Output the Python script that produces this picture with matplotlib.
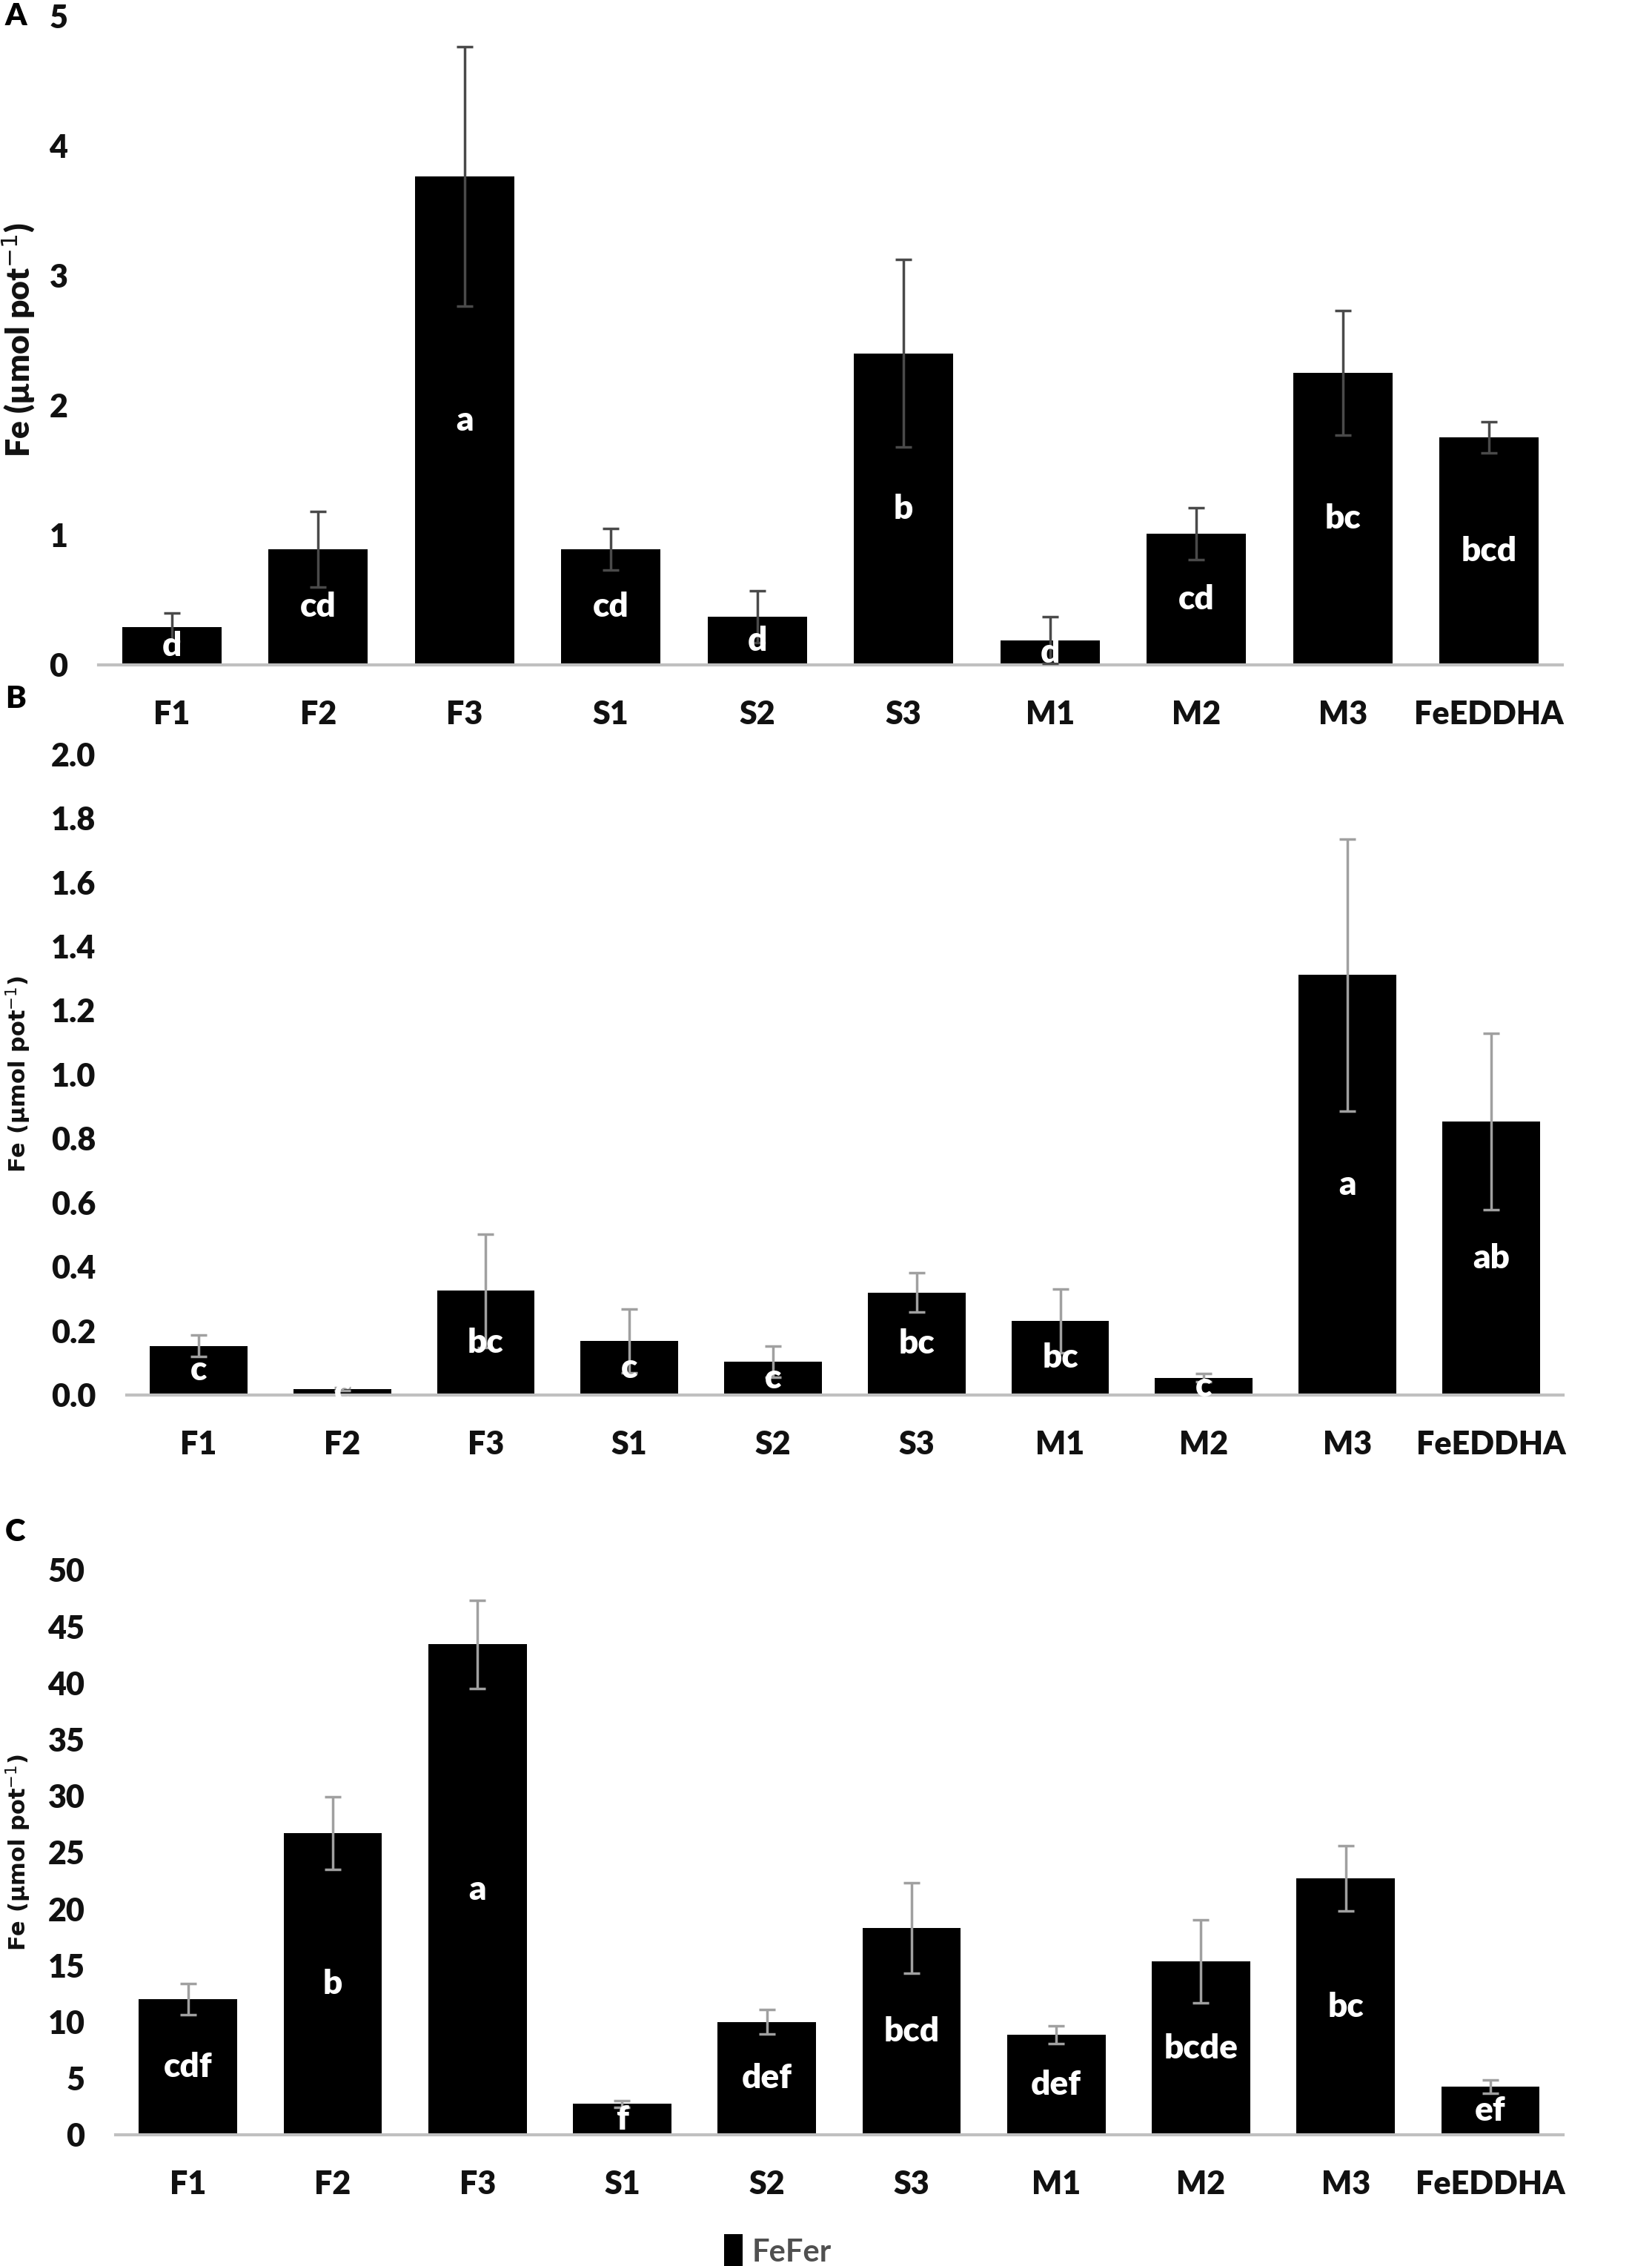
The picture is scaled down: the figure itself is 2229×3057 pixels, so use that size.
import matplotlib
matplotlib.use('agg')
import matplotlib.pyplot as plt

treatments = ['F1', 'F2', 'F3', 'S1', 'S2', 'S3', 'M1', 'M2', 'M3', 'FeEDDHA']

# panel A
fe_a = [0.29, 0.89, 3.76, 0.89, 0.37, 2.40, 0.19, 1.01, 2.25, 1.75]
err_a = [0.11, 0.29, 1.00, 0.16, 0.20, 0.72, 0.18, 0.20, 0.48, 0.12]
let_a = ['d', 'cd', 'a', 'cd', 'd', 'b', 'd', 'cd', 'bc', 'bcd']

# panel B
fe_b = [0.153, 0.019, 0.325, 0.169, 0.104, 0.320, 0.231, 0.054, 1.310, 0.853]
err_b = [0.033, 0.005, 0.177, 0.100, 0.048, 0.062, 0.100, 0.012, 0.425, 0.275]
let_b = ['c', 'c', 'bc', 'c', 'c', 'bc', 'bc', 'c', 'a', 'ab']

# panel C
fe_c = [12.0, 26.7, 43.4, 2.74, 10.0, 18.3, 8.85, 15.35, 22.7, 4.25]
err_c = [1.4, 3.2, 3.9, 0.3, 1.1, 4.0, 0.8, 3.7, 2.9, 0.6]
let_c = ['cdf', 'b', 'a', 'f', 'def', 'bcd', 'def', 'bcde', 'bc', 'ef']

fnt = ['Lato', 'DejaVu Sans']
wt = 'heavy'

fig = plt.figure(figsize=(22.29, 30.57), dpi=100)

# tag, axes rect, values, errors, letters, ylim, yticks, format, error colour, tag y, ylabel font
panels = [
    ('A', [0.0597, 0.7066, 0.886, 0.2865], fe_a, err_a, let_a, (0, 5), [0, 1, 2, 3, 4, 5],
     '{:.0f}', '#4a4a4a', 0.9928, fnt, 32),
    ('B', [0.0767, 0.3844, 0.8694, 0.2829], fe_b, err_b, let_b, (0, 2.0),
     [0, 0.2, 0.4, 0.6, 0.8, 1.0, 1.2, 1.4, 1.6, 1.8, 2.0], '{:.1f}', '#a0a0a0', 0.6915,
     ['DejaVu Sans'], 22),
    ('C', [0.070, 0.0579, 0.876, 0.2493], fe_c, err_c, let_c, (0, 50),
     [0, 5, 10, 15, 20, 25, 30, 35, 40, 45, 50], '{:.0f}', '#a0a0a0', 0.3238,
     ['DejaVu Sans'], 22),
]

x = list(range(len(treatments)))
for tag, rect, vals, errs, lets, ylim, ticks, fmt, ecol, tag_y, lab_fam, lab_size in panels:
    ax = fig.add_axes(rect)
    bars = ax.bar(x, vals, width=0.68, color='black', zorder=2)
    ax.errorbar(x, vals, yerr=errs, fmt='none', ecolor=ecol, elinewidth=2.5,
                capsize=8, capthick=2.5, zorder=3, clip_on=False)
    for xi, v, l in zip(x, vals, lets):
        ax.text(xi, v / 2, l, color='white', ha='center', va='center',
                fontsize=33, fontweight=wt, family=fnt, zorder=4)
    ax.set_xlim(-0.5, len(treatments) - 0.5)
    ax.set_ylim(*ylim)
    ax.set_yticks(ticks)
    ax.set_yticklabels([fmt.format(t) for t in ticks])
    ax.set_xticks(x)
    ax.set_xticklabels(treatments)
    for s in ['top', 'right', 'left']:
        ax.spines[s].set_visible(False)
    ax.spines['bottom'].set_color('#c0c0c0')
    ax.spines['bottom'].set_linewidth(3)
    ax.tick_params(length=0, labelsize=31)
    ax.tick_params(axis='x', pad=34)
    ax.tick_params(axis='y', pad=30)
    for lab in ax.get_xticklabels() + ax.get_yticklabels():
        lab.set_fontweight(wt)
        lab.set_family(fnt)
        lab.set_color('#111111')
    mid = rect[1] + rect[3] / 2
    fig.text(0.011, mid, 'Fe (µmol pot$^{-1}$)', rotation=90, ha='center', va='center',
             fontsize=lab_size, fontweight=wt if tag == 'A' else 'bold', family=lab_fam,
             color='#111111')
    fig.text(0.003, tag_y, tag, fontsize=30, fontweight=wt, family=fnt,
             ha='left', va='center')
    last_bars = bars

fig.legend([last_bars[0]], ['FeFer'], loc='center', bbox_to_anchor=(0.471, 0.0065),
           frameon=False, prop={'family': fnt, 'size': 30, 'weight': 'bold'},
           labelcolor='#505050', handlelength=0.6, handleheight=1.3, handletextpad=0.3,
           borderpad=0)

fig.savefig('out.png', dpi=100)
